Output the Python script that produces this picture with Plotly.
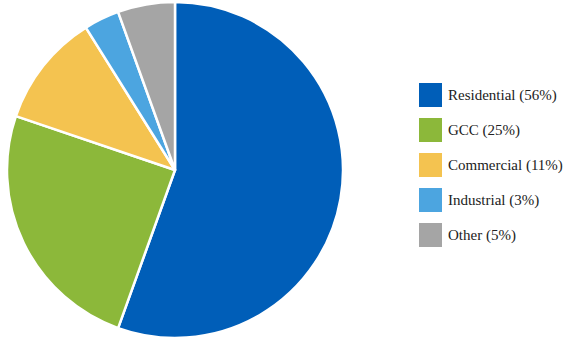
import plotly.graph_objects as go

categories = ["Residential", "GCC", "Commercial", "Industrial", "Other"]
values = [55.5, 24.7, 10.9, 3.4, 5.5]
pct_labels = [56, 25, 11, 3, 5]
colors = ["#005EB8", "#8CB83A", "#F4C350", "#4CA5E0", "#A5A5A5"]

W, H = 567, 340

fig = go.Figure()
fig.add_trace(go.Pie(
    labels=categories,
    values=values,
    sort=False,
    direction="clockwise",
    rotation=0,
    textinfo="none",
    hoverinfo="label+percent",
    marker=dict(colors=colors, line=dict(color="white", width=2.5)),
    domain=dict(x=[7 / W, 343 / W], y=[0, 1]),
    showlegend=False,
))

# custom legend (large swatches)
top = 83
step = 35
sw = 23
for i, (cat, p, c) in enumerate(zip(categories, pct_labels, colors)):
    y0 = top + i * step
    fig.add_shape(type="rect", xref="paper", yref="paper",
                  x0=419 / W, x1=(419 + sw) / W,
                  y0=1 - (y0 + 24) / H, y1=1 - y0 / H,
                  fillcolor=c, line=dict(width=0))
    fig.add_annotation(xref="paper", yref="paper",
                       x=446 / W, y=1 - (y0 + 12) / H,
                       xanchor="left", yanchor="middle",
                       text=f"{cat} ({p}%)", showarrow=False,
                       font=dict(family="Liberation Serif, serif", size=15, color="#222222"))

fig.update_layout(
    width=W, height=H,
    margin=dict(l=0, r=0, t=0, b=0),
    paper_bgcolor="white",
    plot_bgcolor="white",
    font=dict(family="Liberation Serif, serif"),
)

fig.write_html("out.html")
